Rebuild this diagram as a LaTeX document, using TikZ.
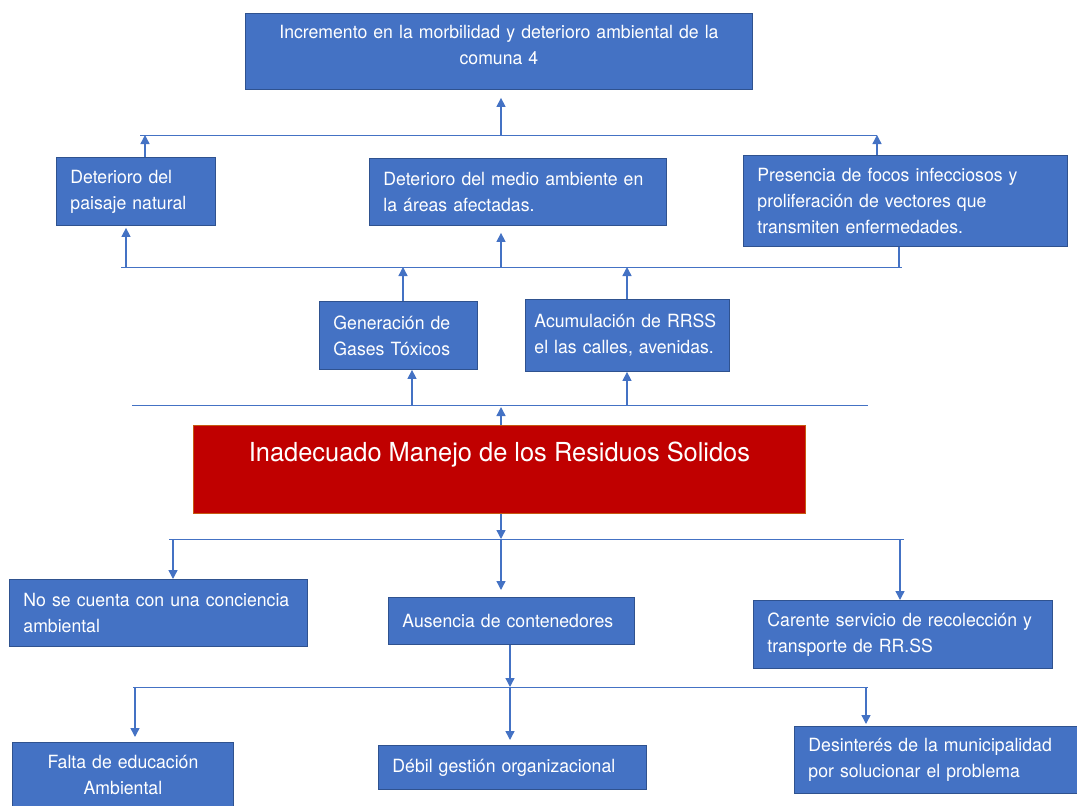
\documentclass[tikz,border=0pt]{standalone}
\usepackage{fontspec}
\setmainfont{TeX Gyre Heros}[FakeStretch=0.97]
\usetikzlibrary{arrows.meta}
\definecolor{causeblue}{HTML}{4472C4}
\definecolor{causeline}{HTML}{2F528F}
\definecolor{problemred}{HTML}{C00000}
\definecolor{problemline}{HTML}{C55A11}
\tikzset{
  box/.style={rectangle,draw=causeline,line width=0.9pt,fill=causeblue,text=white,anchor=north west,inner xsep=14pt,inner ysep=0pt,align=left,font=\fontsize{18.2}{26}\selectfont},
  problem/.style={rectangle,draw=problemline,line width=1pt,fill=problemred,text=white,anchor=north west,inner sep=0pt,minimum width=612pt,minimum height=88pt,text height=36pt,text depth=52pt,font=\fontsize{26.2}{30}\selectfont},
  bus/.style={line width=0.8pt,draw=causeblue},
  edge/.style={-{Triangle[length=9pt,width=9pt]},line width=1.4pt,draw=causeblue}
}
\begin{document}
\hyphenpenalty=10000
\exhyphenpenalty=10000
\begin{tikzpicture}[x=1pt,y=-1pt]
\useasboundingbox (0,0) rectangle (1077,806);
\node[box,align=center,text width=479pt,text height=25pt,text depth=51pt] (top) at (245,13) {Incremento en la morbilidad y deterioro ambiental de la\\comuna 4};
\node[box,text width=131pt,minimum height=68pt] (d1) at (56,157) {Deterioro del\\paisaje natural};
\node[box,text width=269pt,minimum height=67pt] (d2) at (369,158) {Deterioro del medio ambiente en\\la áreas afectadas.};
\node[box,text width=296pt,minimum height=91pt] (d3) at (743,155) {Presencia de focos infecciosos y\\proliferación de vectores que\\transmiten enfermedades.};
\node[box,text width=130pt,minimum height=68pt] (g1) at (319,301) {Generación de\\Gases Tóxicos};
\node[box,inner xsep=9pt,text width=186pt,minimum height=72pt] (g2) at (525,299) {Acumulación de RRSS\\el las calles, avenidas.};
\node[problem] (main) at (193,425) {Inadecuado Manejo de los Residuos Solidos};
\node[box,text width=270pt,minimum height=67pt] (c1) at (9,579) {No se cuenta con una conciencia\\ambiental};
\node[box,text width=218pt,minimum height=47pt] (c2) at (388,597) {Ausencia de contenedores};
\node[box,text width=271pt,minimum height=68pt] (c3) at (753,600) {Carente servicio de recolección y\\transporte de RR.SS};
\node[box,align=center,text width=193pt,minimum height=66pt] (e1) at (12,742) {Falta de educación\\Ambiental};
\node[box,text width=240pt,minimum height=44pt] (e2) at (378,745) {Débil gestión organizacional};
\node[box,text width=262pt,minimum height=67pt] (e3) at (794,726) {Desinterés de la municipalidad\\por solucionar el problema};
\coordinate (tbl) at (140,135);
\coordinate (tbr) at (877,135);
\coordinate (tb1) at (145,135);
\coordinate (tb2) at (501,135);
\coordinate (mbl) at (121,267);
\coordinate (mbr) at (902,267);
\coordinate (mb1) at (126,267);
\coordinate (mb2) at (501,267);
\coordinate (mb3) at (899,267);
\coordinate (mb4) at (403,267);
\coordinate (mb5) at (627,267);
\coordinate (lbl) at (132,405);
\coordinate (lbr) at (868,405);
\coordinate (lb1) at (412,405);
\coordinate (lb2) at (627,405);
\coordinate (lb3) at (501,405);
\coordinate (ubl) at (169,539);
\coordinate (ubr) at (904,539);
\coordinate (ub1) at (173,539);
\coordinate (ub2) at (501,539);
\coordinate (ub3) at (900,539);
\coordinate (bbl) at (133,687);
\coordinate (bbr) at (868,687);
\coordinate (bb1) at (135,687);
\coordinate (bb2) at (510,687);
\coordinate (bb3) at (866,687);
\draw[bus] (tbl) -- (tbr);
\draw[bus] (mbl) -- (mbr);
\draw[bus] (lbl) -- (lbr);
\draw[bus] (ubl) -- (ubr);
\draw[bus] (bbl) -- (bbr);
\draw[edge,shorten >=8pt] (tb2) -- (top.south -| tb2);
\draw[edge] (d1.north -| tb1) -- (tb1);
\draw[edge] (d3.north -| tbr) -- (tbr);
\draw[edge,shorten >=2pt] (mb1) -- (d1.south -| mb1);
\draw[edge,shorten >=7pt] (mb2) -- (d2.south -| mb2);
\draw[bus,line width=1.2pt] (d3.south -| mb3) -- (mb3);
\draw[edge] (g1.north -| mb4) -- (mb4);
\draw[edge] (g2.north -| mb5) -- (mb5);
\draw[edge] (lb1) -- (g1.south -| lb1);
\draw[edge] (lb2) -- (g2.south -| lb2);
\draw[edge,shorten >=2pt] (main.north -| lb3) -- (lb3);
\draw[edge] (main.south -| ub2) -- (ub2);
\draw[edge] (ub1) -- (c1.north -| ub1);
\draw[edge,shorten >=7pt] (ub2) -- (c2.north -| ub2);
\draw[edge] (ub3) -- (c3.north -| ub3);
\draw[edge] (c2.south -| bb2) -- (bb2);
\draw[edge,shorten >=5pt] (bb1) -- (e1.north -| bb1);
\draw[edge,shorten >=5pt] (bb2) -- (e2.north -| bb2);
\draw[edge,shorten >=2pt] (bb3) -- (e3.north -| bb3);
\end{tikzpicture}
\end{document}
